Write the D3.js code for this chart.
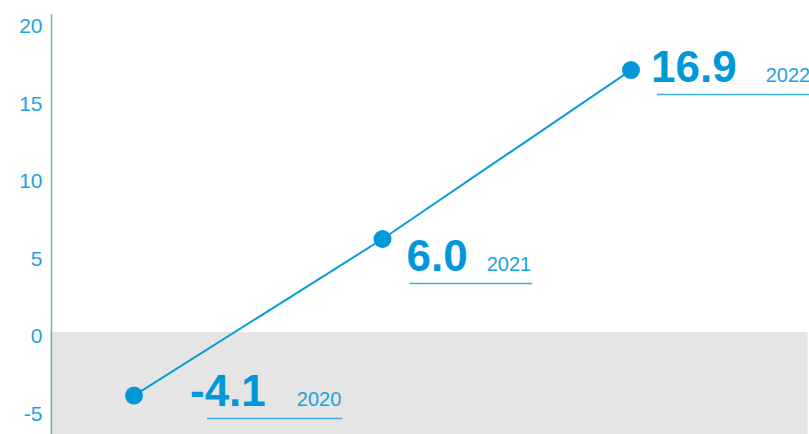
<!DOCTYPE html>
<html>
<head>
<meta charset="utf-8">
<script src="https://cdn.jsdelivr.net/npm/d3@7"></script>
<style>
  html, body { margin: 0; padding: 0; background: #ffffff; }
  svg { display: block; font-family: "Liberation Sans", Arial, sans-serif; }
</style>
</head>
<body>
<div id="chart"></div>
<script>
// Data
const years = ['2020', '2021', '2022'];
const values = [-4.1, 6.0, 16.9];
const yTicks = [-5, 0, 5, 10, 15, 20];

// Annotation placement relative to each point (layout only)
const labelDx = [56, 24, 20];    // value text start
const labelDy = [10.5, 32, 12];  // value baseline
const yearGap = [31, 19, 29];    // space between value and year
const underDx = [17, 3, 6];      // underline start, from value start

const width = 809, height = 434;
const axisX = 51.5;

// plain hyphen for negatives, like the original
const fmtTick = d => String(d);
const fmtVal = d => d.toFixed(1);

const svg = d3.select('#chart')
    .append('svg')
    .attr('width', width)
    .attr('height', height);

const x = d3.scalePoint()
    .domain(years)
    .range([134, 631]);

const y = d3.scaleLinear()
    .domain([-5, 20])
    .range([409.5, 22]);

// Grey band below zero
svg.append('rect')
    .attr('x', axisX - 1.5)
    .attr('y', y(0))
    .attr('width', width - axisX)
    .attr('height', height - y(0))
    .attr('fill', '#e5e5e5');

// y axis labels
const yAxis = svg.append('g')
    .attr('transform', `translate(${axisX},0)`)
    .call(d3.axisLeft(y)
        .tickValues(yTicks)
        .tickFormat(fmtTick)
        .tickSize(0)
        .tickPadding(9));

yAxis.select('.domain').remove();
yAxis.selectAll('text')
    .attr('dy', '0.5em')
    .attr('fill', '#1ea3dd')
    .style('font-size', '21px')
    .style('font-family', '"Liberation Sans", Arial, sans-serif');

// axis line
svg.append('line')
    .attr('x1', axisX).attr('x2', axisX)
    .attr('y1', 14).attr('y2', height)
    .attr('stroke', '#5cc1b0')
    .attr('stroke-width', 1.5);

// line
const data = years.map((yr, i) => ({ year: yr, value: values[i], i }));

svg.append('path')
    .datum(data)
    .attr('fill', 'none')
    .attr('stroke', '#0a9bd8')
    .attr('stroke-width', 2)
    .attr('d', d3.line().x(d => x(d.year)).y(d => y(d.value)));

svg.selectAll('.dot')
    .data(data)
    .join('circle')
    .attr('class', 'dot')
    .attr('cx', d => x(d.year))
    .attr('cy', d => y(d.value))
    .attr('r', 9)
    .attr('fill', '#0098d9');

// annotations
data.forEach(d => {
    const x0 = x(d.year) + labelDx[d.i];
    const base = y(d.value) + labelDy[d.i];

    const valText = svg.append('text')
        .attr('x', x0)
        .attr('y', base)
        .attr('fill', '#0098d9')
        .style('font-size', '44px')
        .style('font-weight', 'bold')
        .text(fmtVal(d.value));

    const vEnd = x0 + valText.node().getComputedTextLength();
    const yearText = svg.append('text')
        .attr('x', vEnd + yearGap[d.i])
        .attr('y', base)
        .attr('fill', '#1ea3dd')
        .style('font-size', '20px')
        .text(d.year);

    const yEnd = vEnd + yearGap[d.i] + yearText.node().getComputedTextLength();

    svg.append('line')
        .attr('x1', x0 + underDx[d.i])
        .attr('x2', yEnd + 1)
        .attr('y1', base + 12.5)
        .attr('y2', base + 12.5)
        .attr('stroke', '#3cb0e2')
        .attr('stroke-width', 1.5);
});
</script>
</body>
</html>
